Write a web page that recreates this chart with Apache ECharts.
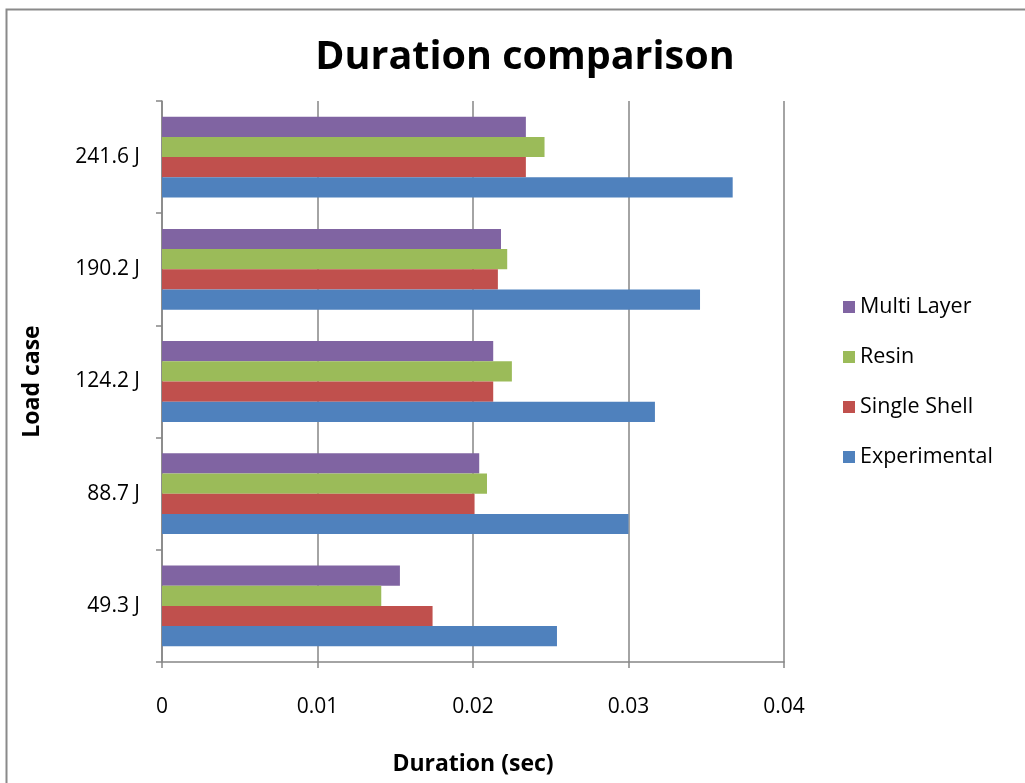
<!DOCTYPE html>
<html>
<head>
<meta charset="utf-8">
<script src="https://cdn.jsdelivr.net/npm/echarts@6/dist/echarts.min.js"></script>
<style>
  html, body { margin: 0; padding: 0; background: #fff; }
  #chart { width: 1025px; height: 783px; }
</style>
</head>
<body>
<div id="chart"></div>
<script>
// Load cases (bottom to top on the vertical axis)
const loadCases = ['49.3 J', '88.7 J', '124.2 J', '190.2 J', '241.6 J'];

// Impact duration in seconds for each model
const experimental = [0.0254, 0.0300, 0.0317, 0.0346, 0.0367];
const singleShell  = [0.0174, 0.0201, 0.0213, 0.0216, 0.0234];
const resin        = [0.0141, 0.0209, 0.0225, 0.0222, 0.0246];
const multiLayer   = [0.0153, 0.0204, 0.0213, 0.0218, 0.0234];

const xTicks = [0, 0.01, 0.02, 0.03, 0.04];

const FONT = '"Open Sans", "Liberation Sans", sans-serif';
const GRID_COLOR = '#868686';

const chart = echarts.init(document.getElementById('chart'), null, { renderer: 'canvas' });

function barSeries(name, data, color) {
  return {
    name: name,
    type: 'bar',
    data: data,
    barGap: '0%',
    barCategoryGap: '28%',
    itemStyle: { color: color },
    emphasis: { disabled: true }
  };
}

chart.setOption({
  animation: false,
  backgroundColor: '#ffffff',
  graphic: [{
    type: 'rect',
    shape: { x: 6.5, y: 9.5, width: 1200, height: 1000 },
    style: { fill: 'none', stroke: '#8a8a8a', lineWidth: 2 },
    silent: true,
    z: -1
  }],
  title: {
    text: 'Duration comparison',
    left: 520,
    top: 33,
    textAlign: 'center',
    textStyle: { fontFamily: FONT, fontWeight: 'bold', fontSize: 39.5, color: '#000' }
  },
  legend: {
    orient: 'vertical',
    left: 838,
    top: 290,
    itemWidth: 12,
    itemHeight: 12,
    itemGap: 26,
    icon: 'rect',
    data: ['Multi Layer', 'Resin', 'Single Shell', 'Experimental'],
    textStyle: { fontFamily: FONT, fontSize: 21.5, color: '#000', lineHeight: 24 }
  },
  grid: { left: 162, right: 241, top: 101, bottom: 121, containLabel: false },
  xAxis: {
    type: 'value',
    min: xTicks[0],
    max: xTicks[xTicks.length - 1],
    interval: xTicks[1] - xTicks[0],
    name: 'Duration (sec)',
    nameLocation: 'middle',
    nameGap: 91,
    nameTextStyle: { fontFamily: FONT, fontWeight: 'bold', fontSize: 23, color: '#000' },
    axisLine: { show: true, lineStyle: { color: GRID_COLOR, width: 1.5 } },
    axisTick: { show: true, length: 6, lineStyle: { color: GRID_COLOR, width: 1.5 } },
    axisLabel: { fontFamily: FONT, fontSize: 21, color: '#000', margin: 35,
                 formatter: v => String(parseFloat(v.toFixed(2))) },
    splitLine: { show: true, lineStyle: { color: GRID_COLOR, width: 1.5 } }
  },
  yAxis: {
    type: 'category',
    data: loadCases,
    name: 'Load case',
    nameLocation: 'middle',
    nameGap: 118,
    nameRotate: 90,
    nameTextStyle: { fontFamily: FONT, fontWeight: 'bold', fontSize: 23, color: '#000' },
    axisLine: { show: true, lineStyle: { color: GRID_COLOR, width: 1.5 } },
    axisTick: { show: true, length: 6, lineStyle: { color: GRID_COLOR, width: 1.5 } },
    axisLabel: { fontFamily: FONT, fontSize: 21, color: '#000', margin: 22 },
    splitLine: { show: false }
  },
  // First series is drawn at the top of each category band
  series: [
    barSeries('Multi Layer', multiLayer, '#8064A2'),
    barSeries('Resin', resin, '#9BBB59'),
    barSeries('Single Shell', singleShell, '#C0504D'),
    barSeries('Experimental', experimental, '#4F81BD')
  ]
});
</script>
</body>
</html>
